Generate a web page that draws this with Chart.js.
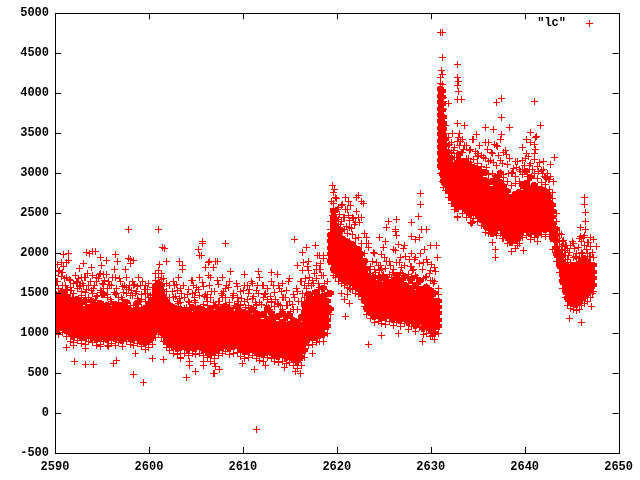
<!DOCTYPE html>
<html>
<head>
<meta charset="utf-8">
<title>lc</title>
<script src="https://cdn.jsdelivr.net/npm/chart.js@4"></script>
<style>
html, body { margin: 0; padding: 0; background: #fff; }
canvas { display: block; }
</style>
</head>
<body>
<canvas id="lcChart" width="640" height="480"></canvas>
<script>
const seriesName = '"lc"';
const xTicks = [2590, 2600, 2610, 2620, 2630, 2640, 2650];
const yTicks = [-500, 0, 500, 1000, 1500, 2000, 2500, 3000, 3500, 4000, 4500, 5000];

// isolated points
const looseX = [2597.8,2601.06,2601.4,2601.7,2605.7,2605.75,2605.3,2605.6,2605.4,2593.35,2594.0,2594.3,2593.7,2591.4,2590.95,2596.4,2594.8,2595.5,2596.7,2597.8,2598.0,2598.4,2598.0,2593.0,2590.3,2590.7,2591.2,2591.45,2593.9,2594.9,2592.65,2597.5,2596.3,2603.25,2603.6,2603.6,2601.9,2601.1,2606.3,2607.1,2606.0,2606.9,2592.05,2593.3,2594.1,2596.2,2596.5,2598.4,2599.4,2600.35,2601.5,2603.95,2605.0,2604.3,2606.95,2605.8,2607.05,2598.55,2591.2,2592.0,2593.2,2594.8,2595.7,2603.4,2611.45,2606.9,2607.5,2611.2,2608.15,2615.5,2617.7,2616.8,2616.4,2615.8,2616.9,2618.3,2617.0,2617.9,2618.2,2618.6,2620.9,2617.4,2616.1,2606.4,2607.3,2611.65,2610.2,2613.0,2613.7,2608.7,2610.5,2611.6,2610.0,2612.4,2614.4,2615.6,2607.0,2604.3,2605.8,2603.4,2619.5,2619.8,2622.3,2622.1,2620.9,2621.2,2622.65,2622.8,2628.9,2628.9,2628.7,2625.5,2626.4,2628.0,2625.3,2626.2,2626.3,2623.2,2623.4,2623.4,2624.5,2627.9,2628.4,2626.6,2629.0,2629.5,2625.0,2630.6,2630.0,2621.4,2624.8,2626.6,2623.4,2629.1,2630.2,2631.0,2631.2,2631.2,2632.85,2631.1,2632.8,2632.95,2632.8,2633.0,2632.9,2633.3,2631.4,2631.9,2637.0,2637.5,2641.1,2637.5,2641.7,2638.4,2635.8,2636.7,2632.9,2633.6,2640.6,2641.2,2641.3,2637.5,2643.2,2642.7,2642.0,2641.0,2639.8,2646.4,2646.4,2646.5,2646.5,2645.9,2646.5,2636.9,2636.9,2639.9,2639.2,2638.4,2634.3,2632.9,2643.9,2644.3,2644.0,2643.8,2647.0,2647.6,2644.8,2646.1,2647.1,2647.2];
const looseY = [2290,2296,2067,2060,2150,2120,2050,1970,1970,2012,2020,2020,2000,2000,1980,1980,1940,1910,1900,1930,1920,1910,1870,1870,1860,1880,1880,1910,1820,1850,1810,1790,1790,1900,1840,1800,1900,1860,1880,1900,1820,1820,640,610,610,620,660,480,380,680,670,450,520,600,500,600,580,750,820,850,810,830,830,680,-200,490,540,540,2120,2170,2100,2070,2010,1850,1830,1870,1900,1975,1975,1975,1210,750,500,1900,1900,1770,1730,1760,1730,1770,1600,1590,620,590,570,520,620,640,640,700,2850,2790,2725,2700,2690,2650,2650,2620,2740,2610,2460,2390,2420,2380,2320,2300,2270,2190,2120,2070,2190,2210,2170,2110,2300,2300,2070,2090,2090,1370,970,1000,860,890,970,4760,4760,4450,4360,4280,4190,4150,4100,4020,3920,3920,3900,3870,3880,3930,3900,3690,3600,3570,3570,3540,3620,3600,3510,3450,3460,3480,3190,3110,3150,3240,3320,2690,2610,2510,2390,2320,2290,2040,1940,2030,2090,2200,2370,2450,2080,2090,2150,2000,2200,2080,1180,1130,1330,1500];

// scattered points around the band
const fringeX = [
2590.3,2590.7,2591.1,2591.5,2591.8,2592.3,2592.6,2593.1,2593.4,2593.8,
2594.2,2594.7,2595.0,2595.3,2595.8,2596.1,2596.6,2597.0,2597.3,2597.9,
2598.2,2598.7,2599.1,2599.5,2599.9,2590.5,2591.0,2591.7,2592.2,2592.9,
2593.5,2594.1,2594.6,2595.1,2595.5,2596.3,2596.9,2597.4,2598.1,2598.9,
2599.3,2599.8,2600.2,2592.5,2593.0,2594.4,2595.7,2597.6,2598.5,2590.9,
2602.1,2602.5,2602.9,2603.3,2603.7,2604.1,2604.5,2604.9,2605.3,2605.7,
2606.1,2606.5,2606.9,2607.3,2607.7,2608.1,2608.5,2608.9,2609.3,2609.7,
2610.1,2610.5,2610.9,2611.3,2611.7,2612.1,2612.5,2612.9,2613.3,2613.7,
2614.1,2614.5,2614.9,2615.3,2615.7,2602.7,2603.5,2604.3,2605.1,2605.9,
2606.7,2607.5,2608.3,2609.1,2609.9,2610.7,2611.5,2612.3,2613.1,2613.9,
2614.7,2615.5,2603.1,2604.7,2606.3,2607.9,2609.5,2611.1,2612.7,2614.3,
2616.1,2616.4,2616.8,2617.1,2617.5,2617.8,2618.1,2618.4,2618.7,2619.0,
2616.3,2616.7,2617.2,2617.6,2618.0,2618.5,2618.9,2616.5,2617.3,2618.3,
2619.4,2619.7,2620.0,2620.3,2620.6,2620.9,2621.2,2621.5,2621.8,2622.1,
2622.4,2619.5,2619.8,2620.1,2620.4,2620.7,2621.0,2621.3,2621.6,2621.9,
2620.5,2620.8,2621.1,2621.5,2622.2,2622.5,2622.8,2623.0,2623.3,2623.5,
2623.8,2624.1,2624.3,2624.6,2624.9,2625.1,2625.4,2625.7,2625.9,2626.2,
2626.5,2626.7,2627.0,2627.3,2627.5,2627.8,2628.1,2628.3,2628.6,2628.9,
2629.1,2629.4,2629.7,2629.9,2630.2,2630.5,2623.9,2624.5,2625.3,2626.1,
2626.9,2627.7,2628.5,2629.3,2630.1,2630.7,2624.2,2625.0,2627.1,2628.2,
2632.0,2632.4,2632.7,2633.0,2633.3,2633.6,2634.0,2634.4,2634.8,2635.2,
2635.6,2636.0,2636.4,2636.8,2637.2,2637.6,2638.0,2638.4,2638.8,2639.2,
2639.6,2640.0,2640.4,2640.8,2641.2,2641.6,2642.0,2642.4,2642.8,2643.1,
2632.3,2633.2,2634.1,2635.1,2636.1,2637.1,2638.1,2639.1,2640.1,2641.1,
2642.1,2634.9,2636.5,2638.7,2640.5,2642.5,2634.4,2635.7,2637.6,2639.4,
2643.5,2643.9,2644.2,2644.5,2644.8,2645.1,2645.4,2645.7,2646.0,2646.3,
2646.6,2646.9,2647.2,2644.1,2644.7,2645.3,2645.9,2646.2,2646.8,2643.7,
2590.6,2591.3,2591.9,2592.7,2593.3,2593.9,2594.5,2595.2,2595.9,2596.5,
2597.1,2597.8,2598.3,2598.9,2599.6,2600.1,2590.2,2591.6,2592.8,2594.3,
2595.6,2596.8,2598.6,2599.2,2602.4,2603.2,2604.0,2604.8,2605.5,2606.2,
2607.1,2607.8,2608.6,2609.4,2610.3,2611.2,2612.0,2612.8,2613.5,2614.2,
2615.1,2615.9,2602.8,2604.4,2606.0,2607.4,2609.0,2610.6,2612.4,2614.0,
2623.1,2623.7,2624.4,2625.2,2625.8,2626.6,2627.4,2628.0,2628.7,2629.5,
2630.3,2632.2,2632.9,2633.5,2634.3,2635.0,2635.9,2636.7,2637.4,2638.3,
2639.0,2639.8,2640.7,2641.5,2642.3,2633.9,2635.4,2637.8,2640.3,2641.9
];
const fringeY = [
1640,1710,1600,1670,1530,1630,1580,1700,1540,1650,
1590,1730,1510,1660,1610,1700,1560,1640,1510,1590,
1650,1520,1600,1540,1490,1780,1680,1570,1720,1620,
1750,1560,1680,1620,1730,1510,1680,1600,1530,1690,
1640,1550,1470,1680,1600,1700,1640,1500,1610,1830,
1340,1520,1610,1430,1590,1480,1660,1410,1540,1630,
1440,1590,1380,1660,1500,1360,1570,1450,1620,1340,
1530,1420,1650,1380,1500,1600,1340,1460,1590,1370,
1520,1440,1650,1360,1560,1600,1500,1380,1570,1460,
1520,1400,1600,1340,1430,1540,1360,1480,1400,1560,
1340,1450,1700,1600,1720,1520,1400,1460,1320,1440,
1640,1780,1560,1700,1620,1800,1540,1720,1620,1510,
1500,1680,1480,1740,1620,1480,1420,1880,1600,1790,
2640,2560,2680,2480,2610,2540,2470,2590,2430,2520,
2380,2470,2400,2540,2360,2450,2330,2410,2310,2360,
1500,1420,1480,1540,1560,1660,1600,1720,1640,1800,
1900,1760,1680,1840,1720,1950,1690,1840,1760,2030,
1700,1880,1750,1960,1690,1830,1780,1920,1700,1990,
1800,1690,1880,1740,1660,1770,2010,1780,1900,1720,
1820,1920,1700,2040,1860,1940,1880,1730,2060,1800,
3360,3280,3190,3440,3260,3350,3180,3420,3270,3340,
3190,3290,3160,3360,3220,3120,3280,3180,3060,3150,
3020,3100,3210,3040,3290,3130,3050,3000,2960,2900,
3500,3390,3280,3220,3380,3330,3230,3070,3180,3360,
2960,3480,3260,3010,3090,2920,2380,2330,2180,2200,
2180,2230,2030,2100,2010,2150,1960,2070,2000,2190,
2050,1960,2010,2160,1970,2060,2210,1990,2130,2250,
1480,1540,1440,1590,1450,1530,1470,1560,1420,1500,
1440,1540,1470,1410,1500,1390,1650,1450,1520,1410,
1480,1380,1500,1420,1290,1370,1320,1440,1310,1400,
1330,1450,1300,1390,1320,1280,1360,1300,1420,1290,
1270,1390,1460,1300,1480,1360,1470,1310,1490,1350,
1620,1580,1650,1600,1700,1640,1590,1710,1630,1580,
1620,3240,3190,3300,3110,3210,3070,3130,3010,2990,
2960,3040,2950,3020,2930,3150,3040,2940,2960,3000
];

// the dense band, read column by column
const bandX = [2590.1,2590.4,2590.8,2591.2,2591.6,2592.0,2592.4,2592.8,2593.2,2593.6,2594.0,2594.4,2594.8,2595.2,2595.6,2596.0,2596.4,2596.8,2597.2,2597.6,2598.0,2598.4,2598.8,2599.2,2599.6,2600.0,2600.4,2600.7,2601.0,2601.3,2601.6,2601.9,2602.2,2602.6,2603.0,2603.4,2603.8,2604.2,2604.6,2605.0,2605.4,2605.8,2606.2,2606.6,2607.0,2607.4,2607.8,2608.2,2608.6,2609.0,2609.4,2609.8,2610.2,2610.6,2611.0,2611.4,2611.8,2612.2,2612.6,2613.0,2613.4,2613.8,2614.2,2614.6,2615.0,2615.4,2615.8,2616.2,2616.6,2617.0,2617.4,2617.8,2618.2,2618.6,2619.0,2619.3,2619.6,2619.9,2620.2,2620.5,2620.8,2621.1,2621.4,2621.7,2622.0,2622.3,2622.6,2622.9,2623.2,2623.6,2624.0,2624.4,2624.8,2625.2,2625.6,2626.0,2626.4,2626.8,2627.2,2627.6,2628.0,2628.4,2628.8,2629.2,2629.6,2630.0,2630.4,2630.8,2631.0,2631.2,2631.4,2631.6,2631.9,2632.2,2632.5,2632.8,2633.1,2633.4,2633.8,2634.2,2634.6,2635.0,2635.4,2635.8,2636.2,2636.6,2637.0,2637.4,2637.8,2638.2,2638.6,2639.0,2639.4,2639.8,2640.2,2640.6,2641.0,2641.4,2641.8,2642.2,2642.6,2643.0,2643.4,2643.7,2644.0,2644.3,2644.6,2644.9,2645.2,2645.5,2645.8,2646.1,2646.4,2646.7,2647.0,2647.3];
const bandY = [
[1050,1120,1190,1260,1330,1400,1480,1590,1720],
[980,1040,1110,1180,1240,1310,1390,1460,1560,1770],
[1010,1090,1150,1220,1290,1350,1430,1510,1600,1760],
[960,1030,1100,1170,1240,1300,1380,1460,1540,1690],
[900,990,1060,1130,1200,1270,1340,1410,1530,1660],
[880,960,1040,1110,1180,1250,1320,1400,1500,1620],
[910,980,1050,1120,1190,1260,1330,1420,1560,1640],
[870,950,1020,1090,1160,1230,1300,1380,1470,1700],
[860,940,1010,1080,1150,1220,1290,1390,1510,1690],
[890,970,1040,1110,1180,1250,1320,1440,1590],
[880,950,1030,1100,1170,1240,1310,1400,1490,1720],
[840,920,1000,1070,1140,1210,1280,1350,1460,1640],
[860,930,1010,1080,1150,1220,1290,1370,1530,1750],
[890,960,1030,1100,1170,1240,1310,1480,1610,1730],
[840,920,990,1060,1130,1200,1270,1340,1440,1560],
[870,950,1020,1090,1160,1230,1290,1400,1600],
[850,930,1000,1070,1140,1210,1280,1360,1480,1690],
[880,950,1020,1090,1160,1230,1300,1370,1450],
[830,910,980,1050,1120,1190,1260,1330,1420,1580],
[890,960,1030,1100,1170,1240,1310,1380,1570,1690],
[860,930,1000,1070,1140,1210,1280,1350,1470],
[840,920,990,1060,1130,1200,1270,1340,1590],
[870,950,1020,1090,1160,1230,1300,1370,1430,1580],
[830,900,970,1040,1110,1180,1250,1320,1480],
[800,880,960,1030,1100,1170,1240,1310,1400,1590],
[820,900,970,1040,1110,1180,1260,1340,1440,1620],
[860,940,1010,1080,1160,1240,1320,1400,1480,1570],
[940,1020,1100,1180,1260,1340,1420,1500,1580,1660,1740],
[980,1060,1140,1220,1300,1380,1460,1540,1620,1700,1780],
[950,1030,1110,1190,1270,1350,1430,1510,1590,1670,1750],
[900,980,1060,1140,1220,1300,1380,1460,1550,1680],
[820,900,980,1060,1140,1220,1300,1400,1520,1620],
[780,860,940,1020,1100,1180,1260,1340,1450,1600],
[750,830,910,990,1070,1150,1230,1320,1440,1640],
[730,810,890,970,1050,1130,1210,1290,1400,1530],
[740,820,900,980,1060,1140,1220,1300,1380,1560],
[750,830,910,990,1070,1150,1230,1310,1450],
[720,800,880,960,1040,1120,1200,1280,1400,1550],
[740,820,900,980,1060,1140,1220,1320,1490,1660],
[730,810,890,970,1050,1130,1210,1290,1380,1510],
[750,830,910,990,1070,1150,1230,1310,1470,1690],
[720,800,880,960,1040,1120,1200,1280,1360,1580],
[690,770,850,930,1010,1090,1170,1250,1350,1480],
[640,730,810,890,970,1050,1130,1210,1300,1440,1700],
[680,760,840,920,1000,1080,1160,1240,1340,1520],
[720,800,880,960,1040,1120,1200,1280,1400,1610],
[740,820,900,980,1060,1140,1220,1310,1470,1690],
[770,840,920,1000,1080,1160,1240,1330,1440,1560],
[730,810,890,970,1050,1130,1210,1290,1380,1640],
[750,830,910,990,1070,1150,1230,1310,1490],
[760,840,920,1000,1080,1160,1240,1330,1440,1580],
[710,790,870,950,1030,1110,1190,1270,1360,1520],
[680,770,850,930,1010,1090,1170,1260,1400,1590],
[690,770,850,930,1010,1090,1170,1240,1340,1500],
[720,800,880,960,1040,1120,1200,1300,1430,1620],
[680,760,840,920,1000,1080,1160,1240,1350,1530],
[660,740,820,900,980,1060,1140,1220,1380,1690],
[650,730,810,890,970,1050,1130,1230,1450,1600],
[690,770,850,930,1010,1090,1170,1290,1420,1560],
[680,760,840,920,1000,1080,1160,1250,1380,1650],
[640,720,800,880,960,1040,1120,1200,1330,1510],
[630,710,790,870,950,1030,1110,1210,1360,1590],
[650,730,810,890,970,1050,1130,1240,1440,1620],
[620,700,780,860,940,1020,1100,1190,1350,1530],
[630,710,790,870,950,1030,1110,1220,1400,1680],
[590,670,750,830,910,990,1070,1160,1300,1480],
[560,640,720,800,880,960,1040,1130,1290,1520],
[600,690,770,850,930,1010,1090,1190,1400,1650],
[700,780,860,940,1020,1100,1180,1260,1340,1450,1600],
[840,920,1000,1080,1160,1240,1320,1400,1480,1620,1780],
[860,940,1020,1100,1180,1260,1340,1420,1500,1660],
[880,950,1030,1110,1190,1270,1350,1430,1510,1680,1840],
[890,970,1050,1130,1210,1290,1370,1450,1570,1790],
[900,980,1060,1140,1220,1300,1380,1460,1560,1720,1930],
[1000,1080,1160,1240,1320,1400,1500,1650],
[1230,1300,1500,1900,1980,2060,2140,2220,2300,2400],
[1720,1800,1880,1960,2040,2120,2200,2280,2360,2440,2520,2620,2760],
[1700,1780,1860,1940,2020,2100,2180,2260,2340,2420,2520,2700],
[1650,1730,1810,1890,1970,2050,2130,2210,2300,2420,2570],
[1620,1700,1780,1860,1940,2020,2100,2180,2280,2400,2600],
[1590,1670,1750,1830,1910,1990,2070,2160,2300,2450],
[1570,1650,1730,1810,1890,1970,2050,2130,2250,2540],
[1560,1640,1720,1800,1880,1960,2040,2150,2320],
[1550,1630,1710,1790,1870,1950,2030,2110,2230,2440],
[1500,1580,1660,1740,1820,1900,1980,2060,2180,2380],
[1480,1560,1640,1720,1800,1880,1960,2040,2200,2440],
[1420,1500,1580,1660,1740,1820,1900,1980,2120,2440],
[1330,1410,1490,1570,1650,1730,1810,1900,2000,2250],
[1230,1310,1390,1470,1550,1630,1710,1790,1900,2120],
[1180,1260,1340,1420,1500,1580,1660,1740,1830],
[1130,1210,1290,1370,1450,1530,1610,1700,1800,2000],
[1140,1220,1300,1380,1460,1540,1620,1710,1850],
[1120,1200,1280,1360,1440,1520,1600,1690,1790,1980],
[1110,1190,1270,1350,1430,1510,1590,1680,1810,2150],
[1150,1230,1310,1390,1470,1550,1630,1730,1900],
[1090,1170,1250,1330,1410,1490,1570,1650,1800,2050],
[1130,1210,1290,1370,1450,1530,1610,1720,1880,2220],
[1080,1160,1240,1320,1400,1480,1560,1640,1760,1950],
[1120,1200,1280,1360,1440,1520,1600,1700,1850,2100],
[1050,1130,1210,1290,1370,1450,1530,1620,1730],
[1080,1160,1240,1320,1400,1480,1560,1670,1830,2000],
[1020,1100,1180,1260,1340,1420,1500,1590,1720,1950],
[1070,1150,1230,1310,1390,1470,1550,1650,1870,2200],
[980,1060,1140,1220,1300,1380,1460,1550,1680,1880],
[1000,1080,1160,1240,1320,1400,1480,1570,1710,1920],
[960,1040,1120,1200,1280,1360,1440,1530,1660,1780],
[920,1000,1080,1160,1240,1320,1400,1490,1640,1820],
[1000,1080,1160,1240,1320,1400,1480,1560],
[3000,3080,3160,3240,3320,3400,3480,3560,3640,3720,3800,3880,3960,4040,4120,4200],
[2900,2980,3060,3140,3220,3300,3380,3460,3540,3620,3700,3780,3860,3940,4020,4110,4230],
[2820,2900,2980,3060,3140,3220,3300,3380,3460,3540,3620,3700,3800,3950],
[2780,2860,2940,3020,3100,3180,3260,3340,3420,3500,3600],
[2700,2780,2860,2940,3020,3100,3180,3260,3340,3440],
[2620,2700,2780,2860,2940,3020,3100,3180,3260,3380],
[2540,2620,2700,2780,2860,2940,3020,3100,3200,3320],
[2460,2560,2640,2720,2800,2880,2960,3040,3120,3240,3400],
[2590,2670,2750,2830,2910,2990,3070,3150,3230,3350,3500],
[2500,2580,2660,2740,2820,2900,2980,3060,3140,3260,3420],
[2450,2530,2610,2690,2770,2850,2930,3010,3090,3180,3340],
[2380,2480,2560,2640,2720,2800,2880,2960,3040,3130,3300],
[2430,2510,2590,2670,2750,2830,2910,2990,3070,3170,3420],
[2400,2480,2560,2640,2720,2800,2880,2960,3040,3120,3240],
[2340,2420,2500,2580,2660,2740,2820,2900,2980,3080,3220],
[2260,2350,2430,2510,2590,2670,2750,2830,2910,3010,3180,3380],
[2240,2320,2400,2480,2560,2640,2720,2800,2880,2980,3140],
[2130,2240,2320,2400,2480,2560,2640,2720,2800,2890,3000,3240],
[2220,2300,2380,2460,2540,2620,2700,2780,2860,2950,3100,3340],
[2240,2320,2400,2480,2560,2640,2720,2800,2880,2990,3160,3420],
[2180,2260,2340,2420,2500,2580,2660,2740,2830,2980,3260],
[2120,2200,2280,2360,2440,2520,2600,2680,2770,2900,3110],
[2020,2130,2210,2290,2370,2450,2530,2610,2700,2850,3000],
[2060,2160,2240,2320,2400,2480,2560,2640,2730,2870,3140],
[2120,2200,2280,2360,2440,2520,2600,2680,2760,2900,3050],
[2190,2270,2350,2430,2510,2590,2670,2750,2840,2980,3160],
[2220,2300,2380,2460,2540,2620,2700,2780,2870,3020,3250,3420],
[2170,2250,2330,2410,2490,2570,2650,2730,2810,2950,3120,3380],
[2200,2280,2360,2440,2520,2600,2680,2760,2850,3000,3170],
[2150,2230,2310,2390,2470,2550,2630,2710,2800,2930,3080],
[2230,2310,2390,2470,2550,2630,2710,2790,2880,3030],
[2210,2290,2370,2450,2530,2610,2690,2770,2860,2950],
[2230,2310,2390,2470,2550,2630,2710,2800,2920],
[2040,2180,2280,2360,2440,2520,2600,2680,2760],
[1900,1980,2060,2140,2220,2300,2400,2500],
[1760,1840,1920,2000,2080,2160],
[1560,1640,1720,1800,1880,1960,2040,2110],
[1440,1520,1600,1680,1760,1840,1920,2030],
[1350,1430,1510,1590,1670,1750,1830,1920,2060],
[1310,1390,1470,1550,1630,1710,1790,1880,2100],
[1290,1370,1450,1530,1610,1690,1770,1850,1950,2120],
[1280,1360,1440,1520,1600,1680,1760,1840,1930,2000],
[1300,1380,1460,1540,1620,1700,1780,1860,1950,2180],
[1340,1420,1500,1580,1660,1740,1820,1900,2010,2140],
[1370,1450,1530,1610,1690,1770,1850,1930,2100,2220],
[1400,1480,1560,1640,1720,1800,1880,1990,2130],
[1450,1530,1610,1690,1770,1850,1960,2080],
[1520,1600,1680,1760,1840,1950,2170]
];

// middle of each column overlaps so much it reads as solid, edges stay single crosses
const corePoints = [];
const edgePoints = [];
looseX.forEach((x, i) => edgePoints.push({ x: x, y: looseY[i] }));
fringeX.forEach((x, i) => edgePoints.push({ x: x, y: fringeY[i] }));
bandX.forEach((x, i) => {
    const col = bandY[i];
    col.forEach((y, j) => {
        if (j === 0 || j >= col.length - 2) edgePoints.push({ x: x, y: y });
        else corePoints.push({ x: x, y: y });
    });
});

function makeCross(thick) {
    const c = document.createElement('canvas');
    c.width = 7;
    c.height = 7;
    const g = c.getContext('2d');
    g.fillStyle = '#f00';
    const off = Math.floor((7 - thick) / 2);
    g.fillRect(off, 0, thick, 7);
    g.fillRect(0, off, 7, thick);
    return c;
}

// gnuplot style frame: inward ticks on all four sides, key inside top right
const gnuplotFrame = {
    id: 'gnuplotFrame',
    beforeDatasetsDraw(chart) {
        chart.ctx.imageSmoothingEnabled = false;
    },
    afterDatasetsDraw(chart) {
        const { ctx, chartArea: a, scales } = chart;
        ctx.save();
        ctx.strokeStyle = '#000';
        ctx.lineWidth = 1;
        ctx.strokeRect(Math.round(a.left) + 0.5, Math.round(a.top) + 0.5, Math.round(a.right - a.left), Math.round(a.bottom - a.top));
        ctx.beginPath();
        xTicks.forEach(v => {
            const px = Math.round(scales.x.getPixelForValue(v)) + 0.5;
            ctx.moveTo(px, a.bottom); ctx.lineTo(px, a.bottom - 6);
            ctx.moveTo(px, a.top); ctx.lineTo(px, a.top + 6);
        });
        yTicks.forEach(v => {
            const py = Math.round(scales.y.getPixelForValue(v)) + 0.5;
            ctx.moveTo(a.left, py); ctx.lineTo(a.left + 6, py);
            ctx.moveTo(a.right, py); ctx.lineTo(a.right - 6, py);
        });
        ctx.stroke();

        ctx.fillStyle = '#000';
        ctx.font = 'bold 12px "Liberation Mono"';
        ctx.textAlign = 'right';
        ctx.textBaseline = 'middle';
        ctx.fillText(seriesName, 566, 23);
        ctx.fillStyle = '#f00';
        ctx.fillRect(586, 23, 7, 1);
        ctx.fillRect(589, 20, 1, 7);
        ctx.restore();
    }
};

new Chart(document.getElementById('lcChart'), {
    type: 'scatter',
    data: {
        datasets: [{
            label: seriesName,
            data: edgePoints,
            pointStyle: makeCross(1),
            pointRadius: 3.5
        }, {
            label: seriesName,
            data: corePoints,
            pointStyle: makeCross(4),
            pointRadius: 3.5
        }]
    },
    options: {
        responsive: false,
        animation: false,
        devicePixelRatio: 1,
        layout: { padding: { top: 13, right: 18, left: 0, bottom: 0 } },
        plugins: { legend: { display: false }, tooltip: { enabled: false } },
        scales: {
            x: {
                type: 'linear',
                min: 2590,
                max: 2650,
                afterBuildTicks(scale) { scale.ticks = xTicks.map(v => ({ value: v })); },
                afterFit(scale) { scale.height = 27; },
                grid: { display: false, drawTicks: false },
                border: { display: false },
                ticks: {
                    color: '#000',
                    padding: 7,
                    maxRotation: 0,
                    font: { family: '"Liberation Mono"', size: 12, weight: 'bold' },
                    callback: v => String(v)
                }
            },
            y: {
                type: 'linear',
                min: -500,
                max: 5000,
                afterBuildTicks(scale) { scale.ticks = yTicks.map(v => ({ value: v })); },
                afterFit(scale) { scale.width = 55; },
                grid: { display: false, drawTicks: false },
                border: { display: false },
                ticks: {
                    color: '#000',
                    padding: 6,
                    font: { family: '"Liberation Mono"', size: 12, weight: 'bold' },
                    callback: v => String(v)
                }
            }
        }
    },
    plugins: [gnuplotFrame]
});
</script>
</body>
</html>
